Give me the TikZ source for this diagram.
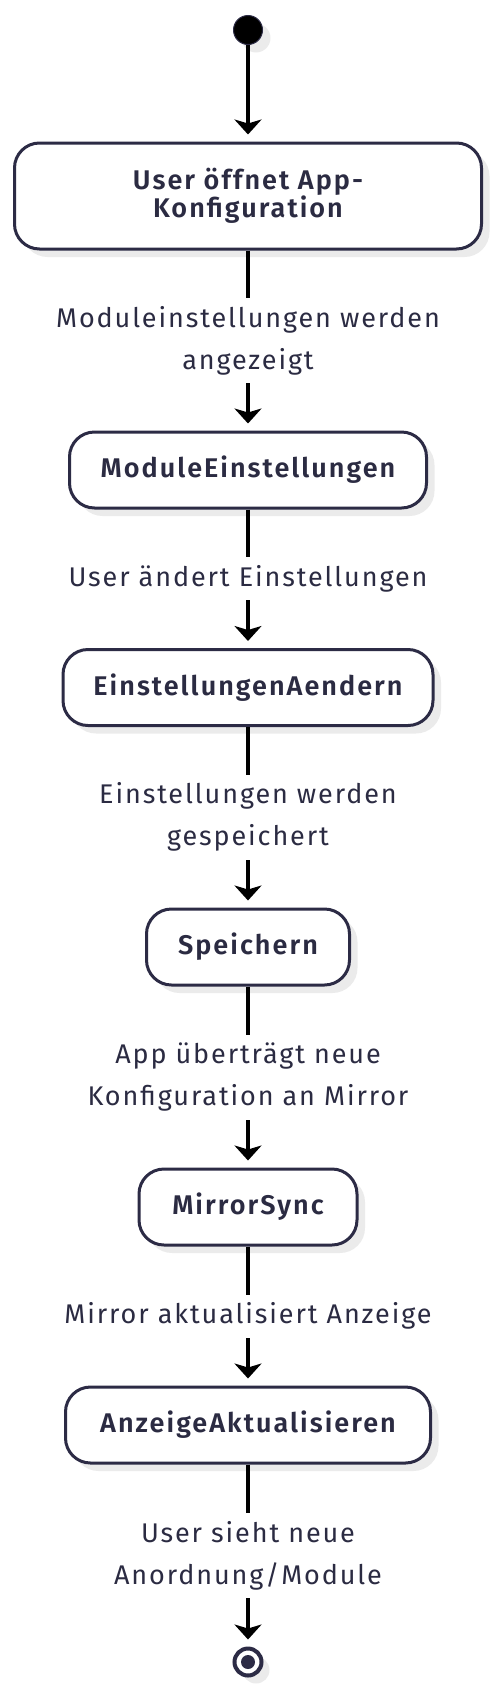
\documentclass[tikz,border=0pt]{standalone}
\usepackage{fontspec}
\setmainfont{Fira Sans}
\newfontfamily\beschrfont{Fira Sans}[LetterSpace=7]
\newfontfamily\zustandfont{Fira Sans SemiBold}[LetterSpace=7.5]
\usetikzlibrary{arrows.meta,shadows}
\definecolor{rand}{HTML}{2C2B45}
\definecolor{schrift}{HTML}{2B2B42}
\tikzset{
  schatten/.style={drop shadow={shadow xshift=8pt, shadow yshift=-8pt, fill=black, opacity=0.08}},
  zustand/.style={draw=rand, line width=3pt, fill=white, rounded corners=25pt,
    minimum height=76pt, text=schrift, align=center, schatten,
    font=\zustandfont\fontsize{27}{28.5}\selectfont},
  pfeil/.style={line width=3.5pt, -{Stealth[length=15pt,width=27pt,inset=4pt]}, shorten >=7pt},
  beschr/.style={fill=white, inner xsep=2pt, inner ysep=0pt, minimum height=43pt,
    text=schrift, align=center, font=\beschrfont\fontsize{27}{42}\selectfont},
}
\begin{document}
\begin{tikzpicture}[x=1pt,y=-1pt]
    \useasboundingbox (0,0) rectangle (496,1692);

    % Start
    \node[circle, fill=black, draw=rand, line width=1pt, minimum size=29pt, inner sep=0pt, schatten] (start) at (248,30) {};

    % Zustaende
    \node[zustand, minimum width=467pt, minimum height=106pt] (oeffnen) at (248,196) {User öffnet App-\\Konfiguration};
    \node[zustand, minimum width=357pt] (module) at (248,470) {ModuleEinstellungen};
    \node[zustand, minimum width=370pt] (aendern) at (248,687.5) {EinstellungenAendern};
    \node[zustand, minimum width=203pt] (speichern) at (248,947) {Speichern};
    \node[zustand, minimum width=218pt] (sync) at (248,1207) {MirrorSync};
    \node[zustand, minimum width=365pt] (anzeige) at (248,1425) {AnzeigeAktualisieren};

    % Ende
    \node[circle, draw=rand, line width=4pt, fill=white, minimum size=27pt, inner sep=0pt, schatten] (ende) at (248,1662) {};
    \fill[rand] (ende.center) circle (7pt);

    % Uebergaenge
    \draw[pfeil] (start) -- (oeffnen);
    \draw[pfeil] (oeffnen) -- node[beschr, minimum height=85pt] {Moduleinstellungen werden\\angezeigt} (module);
    \draw[pfeil] (module) -- node[beschr] {User ändert Einstellungen} (aendern);
    \draw[pfeil] (aendern) -- node[beschr, minimum height=85pt] {Einstellungen werden\\gespeichert} (speichern);
    \draw[pfeil] (speichern) -- node[beschr, minimum height=85pt] {App überträgt neue\\Konfiguration an Mirror} (sync);
    \draw[pfeil] (sync) -- node[beschr] {Mirror aktualisiert Anzeige} (anzeige);
    \draw[pfeil] (anzeige) -- node[beschr, minimum height=85pt] {User sieht neue\\Anordnung/Module} (ende);
\end{tikzpicture}
\end{document}
